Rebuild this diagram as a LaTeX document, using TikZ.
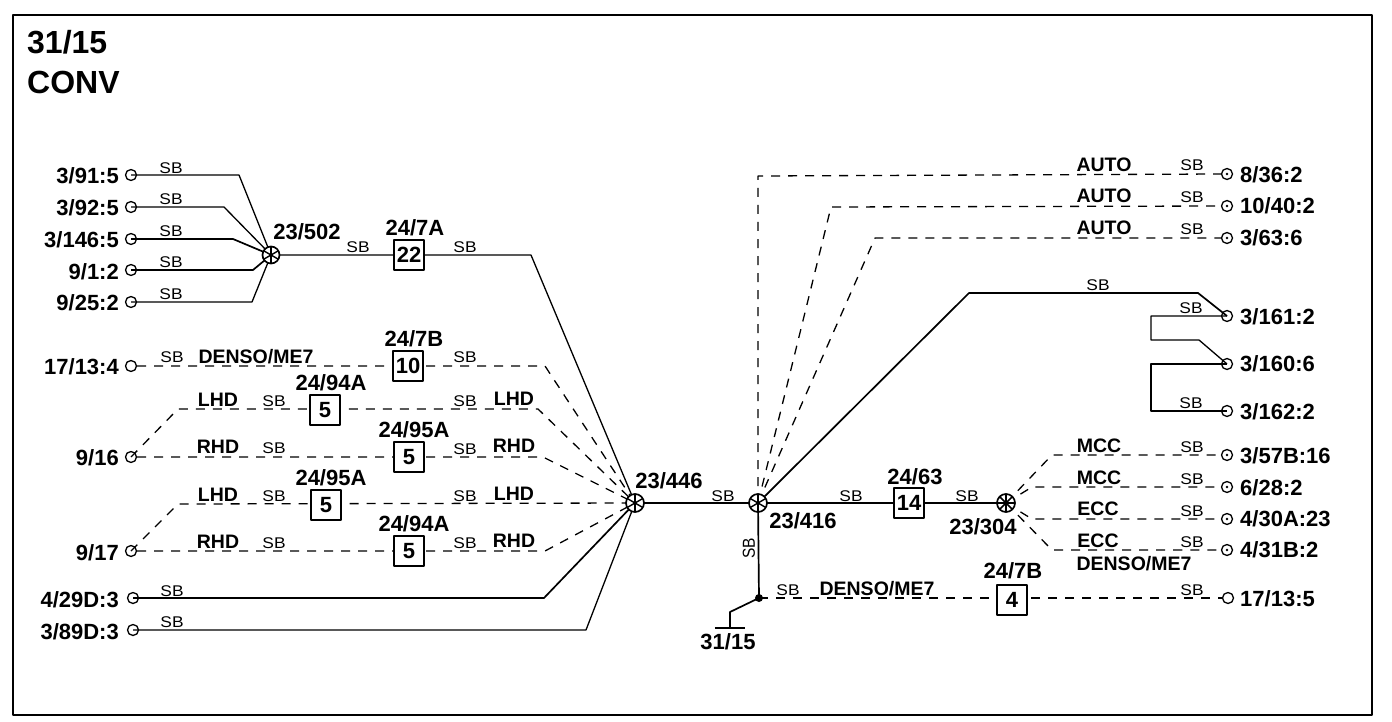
\documentclass[tikz,border=0pt]{standalone}
\usepackage{fontspec}
\setmainfont{Liberation Sans}
\begin{document}
\begin{tikzpicture}[x=1pt,y=-1pt,line join=round,
  wire/.style={line width=1.3pt,black},
  heavy/.style={line width=2pt,black},
  mid/.style={line width=1.7pt,black},
  dash wire/.style={line width=1.3pt,black,dash pattern=on 9pt off 8pt},
  term/.style={circle,draw,line width=1.3pt,minimum size=11pt,inner sep=0pt},
  dotterm/.style={term,path picture={\fill (path picture bounding box.center) circle (1.3pt);}},
  junction/.style={circle,draw,fill=white,line width=1.7pt,minimum size=18pt,inner sep=0pt,
    path picture={\foreach \a in {30,90,150}{\draw[line width=1.4pt] (path picture bounding box.center)+(\a:10pt) -- +(\a+180:10pt);}}},
  densejunction/.style={circle,draw,fill=white,line width=1.7pt,minimum size=18pt,inner sep=0pt,
    path picture={\foreach \a in {0,45,90,135}{\draw[line width=1.5pt] (path picture bounding box.center)+(\a:10pt) -- +(\a+180:10pt);}}},
  fuse/.style={draw,fill=white,line width=1.8pt,minimum size=30pt,inner sep=0pt,font=\fontsize{22}{24}\selectfont\bfseries},
  lab/.style={font=\fontsize{22}{24}\selectfont\bfseries,inner sep=0pt},
  cond/.style={font=\fontsize{19.5}{22}\selectfont\bfseries,inner sep=0pt},
  sb/.style={font=\fontsize{15.5}{18}\selectfont,inner sep=0pt,xscale=1.12},
  ttl/.style={font=\fontsize{32}{36}\selectfont\bfseries,inner sep=0pt,anchor=west}]
\useasboundingbox (0,0) rectangle (1392,722);
\node[draw,line width=2pt,minimum width=1359pt,minimum height=700pt,anchor=north west,inner sep=0pt] (frame) at (12,14) {};
\node[ttl] (t1) at (27,42) {31/15};
\node[ttl] (t2) at (27,82) {CONV};

\node[term] (a1) at (131,175) {};
\node[term] (a2) at (131,207) {};
\node[term] (a3) at (131,239) {};
\node[term] (a4) at (131,270) {};
\node[term] (a5) at (131,302) {};
\node[term] (a6) at (131,366) {};
\node[term] (a7) at (131,457) {};
\node[term] (a8) at (131,551) {};
\node[term] (a9) at (133,598) {};
\node[term] (a10) at (133,630) {};
\node[dotterm] (b1) at (1227,174) {};
\node[dotterm] (b2) at (1227,206) {};
\node[dotterm] (b3) at (1227,238) {};
\node[term] (b4) at (1227,316) {};
\node[term] (b5) at (1227,364) {};
\node[term] (b6) at (1227,411) {};
\node[dotterm] (b7) at (1227,455) {};
\node[dotterm] (b8) at (1227,487) {};
\node[dotterm] (b9) at (1227,519) {};
\node[dotterm] (b10) at (1227,550) {};
\node[term] (b11) at (1228,598) {};

\coordinate (j1) at (271,255);
\coordinate (j2) at (635,503);
\coordinate (j3) at (758,503);
\coordinate (j4) at (1006,503);
\coordinate (dt) at (759,598);

\draw[wire] (a1.center) -- (239,175) -- (j1);
\draw[wire] (a2.center) -- (224,207) -- (j1);
\draw[mid] (a3.center) -- (233,239) -- (j1);
\draw[mid] (a4.center) -- (253,270) -- (j1);
\draw[wire] (a5.center) -- (252,302) -- (j1);
\draw[wire] (j1) -- (531,255) -- (j2);
\draw[dash wire] (a6.east) -- (545,366) -- (j2);
\draw[dash wire] (a7.center) -- (178,409) -- (538,409) -- (j2);
\draw[dash wire] (a7.east) -- (543,457) -- (j2);
\draw[dash wire] (a8.center) -- (178,504) -- (j2);
\draw[dash wire] (a8.east) -- (545,551) -- (j2);
\draw[mid] (a9.center) -- (544,598) -- (j2);
\draw[wire] (a10.center) -- (586,630) -- (j2);
\draw[heavy] (j2) -- (j3);
\draw[heavy] (j3) -- (j4);
\draw[mid] (j3) -- (dt);
\fill (dt) circle (4pt);
\coordinate (g) at (730,612);
\node[inner sep=0pt,minimum width=30pt,minimum height=0pt] (gbar) at (730,628) {};
\draw[mid] (dt) -- (g) -- (gbar.center);
\draw[mid] (gbar.west) -- (gbar.east);
\draw[dash wire] (dt) -- (1012,598) -- (b11.west);
\draw[dash wire] (j3) -- (758,176) -- (b1.west);
\draw[dash wire] (j3) -- (831,207) -- (b2.west);
\draw[dash wire] (j3) -- (875,238) -- (b3.west);
\draw[mid] (j3) -- (969,293) -- (1198,293) -- (b4.center);
\draw[wire] (b4.center) -- (1151,316) -- (1151,340) -- (1199,340) -- (b5.center);
\draw[mid] (b5.center) -- (1151,364) -- (1151,411) -- (b6.center);
\draw[dash wire] (j4) -- (1052,455) -- (b7.west);
\draw[dash wire] (j4) -- (1032,487) -- (b8.west);
\draw[dash wire] (j4) -- (1032,519) -- (b9.west);
\draw[dash wire] (j4) -- (1052,550) -- (b10.west);

\node[junction,minimum size=17pt] (J1) at (j1) {};
\node[junction] (J2) at (j2) {};
\node[junction] (J3) at (j3) {};
\node[densejunction] (J4) at (j4) {};

\node[fuse] (f1) at (409,255) {22};
\node[fuse] (f2) at (408,366) {10};
\node[fuse] (f3) at (325,410) {5};
\node[fuse] (f4) at (409,457) {5};
\node[fuse] (f5) at (326,505) {5};
\node[fuse] (f6) at (409,551) {5};
\node[fuse] (f7) at (909,503) {14};
\node[fuse] (f8) at (1012,600) {4};

\foreach \n/\y/\t in {l1/176/{3/91:5},l2/208/{3/92:5},l3/240/{3/146:5},l4/272/{9/1:2},l5/303/{9/25:2},l6/367/{17/13:4},l7/458/{9/16},l8/553/{9/17},l9/600/{4/29D:3},l10/632/{3/89D:3}}
  \node[lab,anchor=east] (\n) at (119,\y) {\t};
\foreach \n/\y/\t in {r1/175/{8/36:2},r2/206/{10/40:2},r3/238/{3/63:6},r4/317/{3/161:2},r5/364/{3/160:6},r6/412/{3/162:2},r7/456/{3/57B:16},r8/488/{6/28:2},r9/519/{4/30A:23},r10/550/{4/31B:2},r11/599/{17/13:5}}
  \node[lab,anchor=west] (\n) at (1240,\y) {\t};

\foreach \n/\x/\y/\t in {c1/307/232/{23/502},c2/415/228/{24/7A},c3/414/339/{24/7B},c4/331/383/{24/94A},c5/414/430/{24/95A},c6/331/478/{24/95A},c7/414/524/{24/94A},c8/669/481/{23/446},c9/803/521/{23/416},c10/915/477/{24/63},c11/983/527/{23/304},c12/1013/571/{24/7B},c13/728/642/{31/15}}
  \node[lab] (\n) at (\x,\y) {\t};

\foreach \n/\x/\y/\t in {d1/256/357/{DENSO/ME7},d2/218/400/{LHD},d3/514/399/{LHD},d4/218/447/{RHD},d5/514/446/{RHD},d6/218/495/{LHD},d7/514/494/{LHD},d8/218/542/{RHD},d9/514/541/{RHD},d10/877/589/{DENSO/ME7},d11/1104/165/{AUTO},d12/1104/196/{AUTO},d13/1104/228/{AUTO},d14/1099/446/{MCC},d15/1099/478/{MCC},d16/1098/509/{ECC},d17/1098/541/{ECC},d18/1134/564/{DENSO/ME7}}
  \node[cond] (\n) at (\x,\y) {\t};

\foreach \n/\x/\y in {s1/171/168,s2/171/199,s3/171/231,s4/171/262,s5/171/294,s6/172/357,s7/358/247,s8/465/247,s9/465/357,s10/274/401,s11/465/401,s12/274/448,s13/465/449,s14/274/496,s15/465/496,s16/274/543,s17/465/543,s18/172/591,s19/172/622,s20/723/496,s21/851/496,s22/967/496,s23/788/590,s24/1192/165,s25/1192/197,s26/1192/229,s27/1098/285,s28/1191/308,s30/1191/403,s31/1192/447,s32/1192/479,s33/1192/511,s34/1192/542,s35/1192/590}
  \node[sb] (\n) at (\x,\y) {SB};
\node[sb,rotate=90] (s36) at (749,548) {SB};
\end{tikzpicture}
\end{document}
